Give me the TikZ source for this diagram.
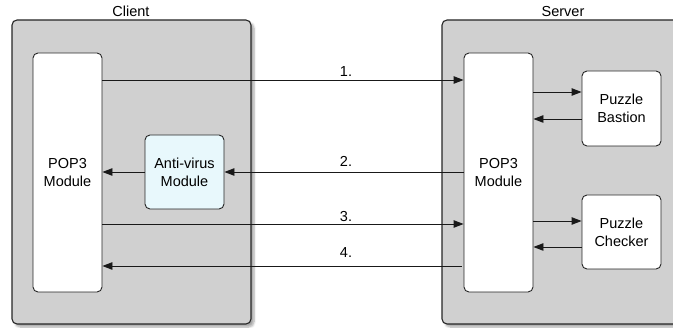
\documentclass[tikz,border=0pt]{standalone}
\usepackage{fontspec}
\setmainfont{Liberation Sans}
\usetikzlibrary{arrows.meta,shadows.blur}
\definecolor{boxgray}{RGB}{208,208,208}
\definecolor{avfill}{RGB}{232,248,252}
\begin{document}
\begin{tikzpicture}[x=1pt,y=-1pt,
  txt/.style={font=\fontsize{14.5}{18}\selectfont},
  container/.style={draw=black!85, line width=1.1pt, fill=boxgray, rounded corners=5pt,
     blur shadow={shadow xshift=3pt, shadow yshift=-3pt, shadow blur steps=6, shadow opacity=35},
     inner sep=0pt},
  module/.style={draw=black!85, line width=0.9pt, fill=white, rounded corners=5pt,
     align=center, txt, inner sep=0pt},
  arr/.style={-{Triangle[length=10pt,width=7.5pt]}, line width=0.9pt, black!90},
  lbl/.style={txt, anchor=base}
]
\useasboundingbox (0,0) rectangle (673,328);
% containers
\node[container, minimum width=239pt, minimum height=304pt] (client) at (131.5,172) {};
\node[container, minimum width=258pt, minimum height=304pt] (server) at (571,172) {};
\node[lbl] (clientlbl) at (131,17) {Client};
\node[lbl] (serverlbl) at (563,17) {Server};
% modules
\node[module, minimum width=69pt, minimum height=239pt] (cpop) at (67.5,172.5) {POP3\\Module};
\node[module, fill=avfill, minimum width=79pt, minimum height=74pt] (av) at (184.5,172) {Anti-virus\\Module};
\node[module, minimum width=69pt, minimum height=239pt] (spop) at (498.5,172.5) {POP3\\Module};
\node[module, minimum width=79pt, minimum height=75pt] (bastion) at (621.5,108.5) {Puzzle\\Bastion};
\node[module, minimum width=79pt, minimum height=74pt] (checker) at (621.5,232) {Puzzle\\Checker};
% client-server arrows
\draw[arr] (cpop.east |- 0,80) -- (spop.west |- 0,80);
\draw[arr] (spop.west |- 0,172) -- (av.east |- 0,172);
\draw[arr] (av.west |- 0,172) -- (cpop.east |- 0,172);
\draw[arr] (cpop.east |- 0,224) -- (spop.west |- 0,224);
\draw[arr] ([xshift=-2pt]spop.west |- 0,266) -- (cpop.east |- 0,266);
\node[lbl] (l1) at (346,77) {1.};
\node[lbl] (l2) at (346,167) {2.};
\node[lbl] (l3) at (346,222) {3.};
\node[lbl] (l4) at (346,258) {4.};
% server internal arrows
\draw[arr] (spop.east |- 0,92) -- (bastion.west |- 0,92);
\draw[arr] (bastion.west |- 0,119) -- (spop.east |- 0,119);
\draw[arr] (spop.east |- 0,221) -- (checker.west |- 0,221);
\draw[arr] (checker.west |- 0,247) -- (spop.east |- 0,247);
\end{tikzpicture}
\end{document}
